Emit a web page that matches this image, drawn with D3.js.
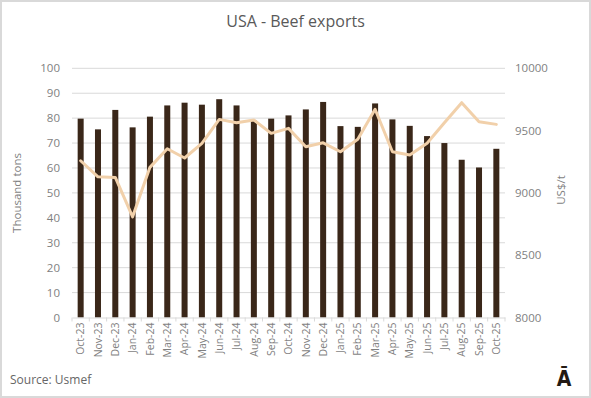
<!DOCTYPE html>
<html><head><meta charset="utf-8">
<script src="https://cdn.jsdelivr.net/npm/d3@7"></script>
<style>body{margin:0;background:#fff}svg{display:block}text{font-family:"Open Sans",sans-serif}</style>
</head><body><svg id="c" width="591" height="398"></svg>
<script>
const months = ["Oct-23","Nov-23","Dec-23","Jan-24","Feb-24","Mar-24","Apr-24","May-24","Jun-24","Jul-24","Aug-24","Sep-24","Oct-24","Nov-24","Dec-24","Jan-25","Feb-25","Mar-25","Apr-25","May-25","Jun-25","Jul-25","Aug-25","Sep-25","Oct-25"];
const volume = [79.8,75.5,83.3,76.3,80.6,85.1,86.2,85.4,87.6,85.1,79.0,79.8,81.1,83.5,86.5,76.8,76.5,85.9,79.5,76.9,72.8,70.0,63.3,60.2,67.7];
const price = [9258,9129,9124,8808,9205,9354,9280,9398,9590,9563,9585,9478,9518,9370,9402,9330,9430,9671,9330,9304,9398,9563,9724,9571,9550];
const leftTicks = [0,10,20,30,40,50,60,70,80,90,100];
const rightTicks = [8000,8500,9000,9500,10000];

const svg = d3.select("#c");
const W=591,H=398;
const m={l:72,r:505,t:68.3,b:317.5};
svg.append("rect").attr("x",1).attr("y",1).attr("width",W-2).attr("height",H-2).attr("fill","#fff").attr("stroke","#d9d9d9").attr("stroke-width",2);

const x = d3.scaleBand().domain(months).range([m.l,m.r]).paddingInner(0).paddingOuter(0);
const yL = d3.scaleLinear().domain([0,100]).range([m.b,m.t]);
const yR = d3.scaleLinear().domain([8000,10000]).range([m.b,m.t]);
const txt="#7f7f7f";

svg.append("g").selectAll("line").data(leftTicks.slice(1)).join("line")
 .attr("x1",m.l).attr("x2",m.r).attr("y1",d=>yL(d)).attr("y2",d=>yL(d))
 .attr("stroke","#d9d9d9").attr("stroke-width",1);

const gl = svg.append("g").attr("transform",`translate(${m.l-10},0)`)
 .call(d3.axisLeft(yL).tickValues(leftTicks).tickSize(0).tickPadding(2));
gl.select(".domain").remove();
gl.selectAll("text").attr("fill",txt).style("font-size","11.5px").style("font-family","'Open Sans',sans-serif");

const gr = svg.append("g").attr("transform",`translate(${m.r+8},0)`)
 .call(d3.axisRight(yR).tickValues(rightTicks).tickFormat(d3.format("d")).tickSize(0).tickPadding(2));
gr.select(".domain").remove();
gr.selectAll("text").attr("fill",txt).style("font-size","11.5px").style("font-family","'Open Sans',sans-serif");

const bw=6;
svg.append("g").selectAll("rect").data(volume).join("rect")
 .attr("x",(d,i)=>x(months[i])+x.bandwidth()/2-bw/2).attr("width",bw)
 .attr("y",d=>yL(d)).attr("height",d=>yL(0)-yL(d)).attr("fill","#3a2719");

const gx = svg.append("g").attr("transform",`translate(0,${m.b})`)
 .call(d3.axisBottom(x).tickSize(0).tickPadding(0));
gx.select(".domain").attr("stroke","#d9d9d9");
gx.selectAll("text").attr("fill",txt).style("font-size","10.5px").style("font-family","'Open Sans',sans-serif")
 .attr("text-anchor","end").attr("transform","rotate(-90)").attr("x",-5).attr("y",0).attr("dy","0.35em");
svg.append("g").selectAll("line").data(d3.range(months.length+1)).join("line")
 .attr("x1",i=>m.l+i*x.step()).attr("x2",i=>m.l+i*x.step()).attr("y1",m.b).attr("y2",m.b+4)
 .attr("stroke","#d9d9d9");

svg.append("path").datum(price)
 .attr("d",d3.line().x((d,i)=>x(months[i])+x.bandwidth()/2).y(d=>yR(d)))
 .attr("fill","none").attr("stroke","#f1d0aa").attr("stroke-width",3).attr("stroke-linejoin","round").attr("stroke-linecap","round");

svg.append("text").attr("x",W/2).attr("y",27).attr("text-anchor","middle").attr("fill","#595959").style("font-size","16px").text("USA - Beef exports");
svg.append("text").attr("transform","translate(21,193) rotate(-90)").attr("text-anchor","middle").attr("fill",txt).style("font-size","11.5px").text("Thousand tons");
svg.append("text").attr("transform","translate(565,190) rotate(-90)").attr("text-anchor","middle").attr("fill",txt).style("font-size","11.5px").text("US$/t");
svg.append("text").attr("x",10).attr("y",384).attr("fill","#666").style("font-size","12px").text("Source: Usmef");
svg.append("text").attr("x",564).attr("y",386).attr("text-anchor","middle").attr("fill","#231a14").style("font-size","21px").style("font-weight","700").style("font-family","'DejaVu Sans Condensed','Liberation Sans Narrow',sans-serif").text("Ā");
</script></body></html>
